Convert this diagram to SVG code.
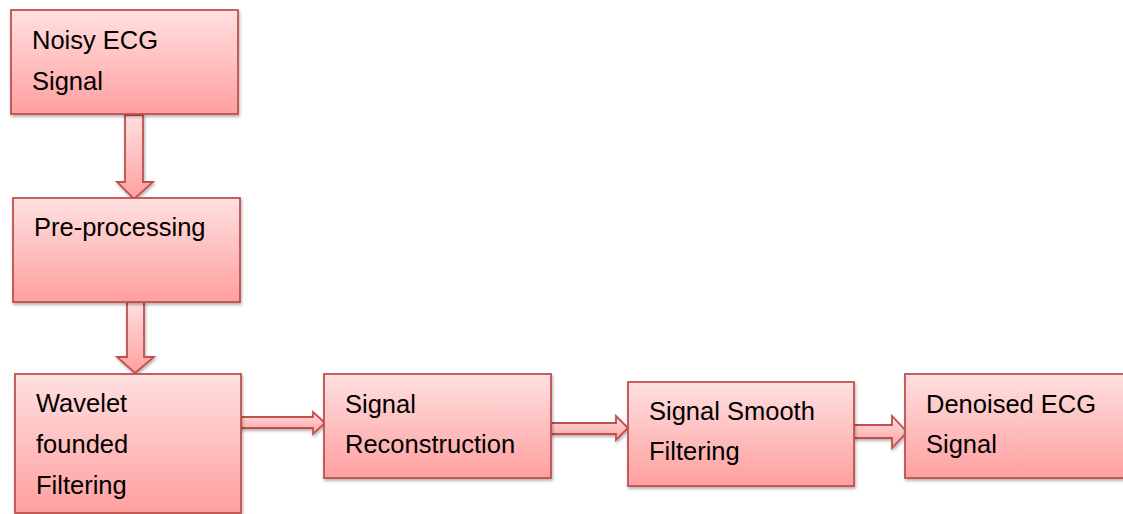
<svg xmlns="http://www.w3.org/2000/svg" width="1123" height="514" viewBox="0 0 1123 514">
<defs>
<linearGradient id="g" x1="0" y1="0" x2="0" y2="1">
<stop offset="0" stop-color="#ffe0e0"/>
<stop offset="1" stop-color="#ff9f9f"/>
</linearGradient>
<filter id="sh" x="-10%" y="-10%" width="130%" height="130%">
<feDropShadow dx="1" dy="2" stdDeviation="1.5" flood-color="#000" flood-opacity="0.3"/>
</filter>
</defs>
<style>
.box{fill:url(#g);stroke:#c0504d;stroke-width:1.8;filter:url(#sh)}
.arr{fill:url(#g);stroke:#c0504d;stroke-width:1.8;stroke-linejoin:miter;filter:url(#sh)}
.t{font-family:"Liberation Sans",Arial,sans-serif;font-size:25.5px;fill:#000}
</style>
<g id="connectors">
<polygon class="arr" points="125,115 143,115 143,182 153,182 134,199 117,182 125,182"/>
<polygon class="arr" points="127,302 144,302 144,357 154,357 135,373 117,357 127,357"/>
<polygon class="arr" points="241,417 313,417 313,412 325,423 313,434 313,428 241,428"/>
<polygon class="arr" points="551,423 616,423 616,416 628,428 616,440 616,434 551,434"/>
<polygon class="arr" points="854,425 892,425 892,416 907,432 892,448 892,438 854,438"/>
</g>
<g id="n1">
<rect class="box" x="11" y="10" width="227" height="104"/>
<text class="t" x="32" y="49">Noisy ECG</text>
<text class="t" x="32" y="90">Signal</text>
</g>
<g id="n2">
<rect class="box" x="13" y="198" width="227" height="104"/>
<text class="t" x="34" y="236">Pre-processing</text>
</g>
<g id="n3">
<rect class="box" x="15" y="374" width="226" height="139"/>
<text class="t" x="36" y="412">Wavelet</text>
<text class="t" x="36" y="453">founded</text>
<text class="t" x="36" y="494">Filtering</text>
</g>
<g id="n4">
<rect class="box" x="324" y="374" width="227" height="104"/>
<text class="t" x="345" y="413">Signal</text>
<text class="t" x="345" y="453">Reconstruction</text>
</g>
<g id="n5">
<rect class="box" x="628" y="382" width="226" height="104"/>
<text class="t" x="649" y="420">Signal Smooth</text>
<text class="t" x="649" y="460">Filtering</text>
</g>
<g id="n6">
<rect class="box" x="905" y="374" width="240" height="104"/>
<text class="t" x="926" y="413">Denoised ECG</text>
<text class="t" x="926" y="453">Signal</text>
</g>
</svg>
